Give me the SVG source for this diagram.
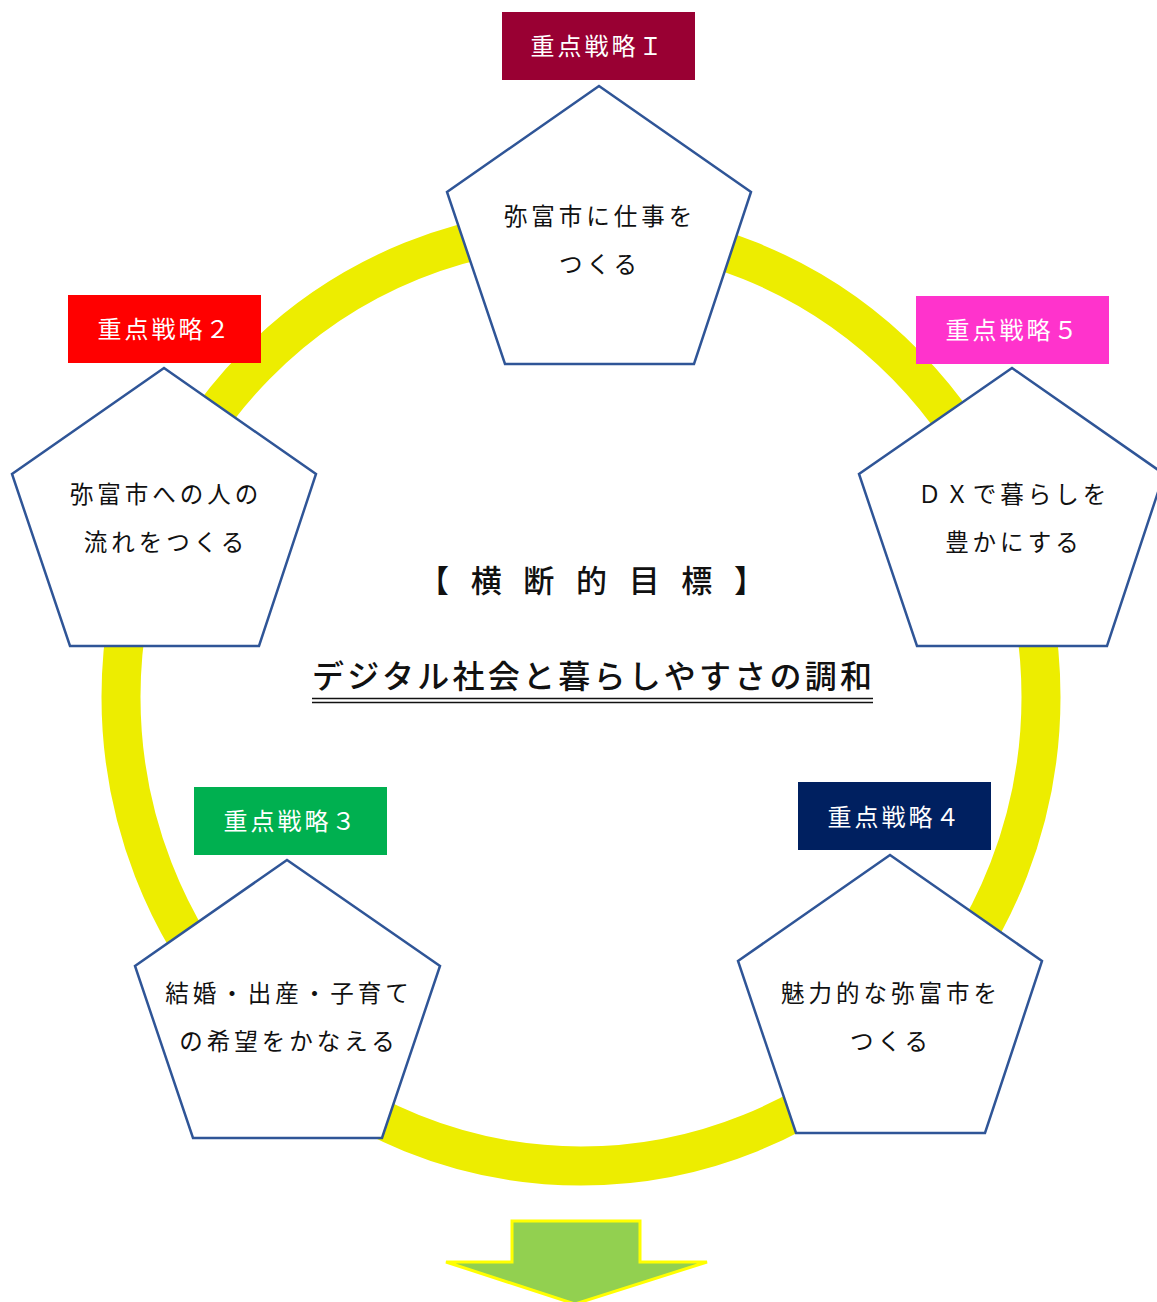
<svg xmlns="http://www.w3.org/2000/svg" width="1157" height="1302" viewBox="0 0 1157 1302">
<style>
.ring{fill:none;stroke:#eded00;stroke-width:39}
.pent{fill:#ffffff;stroke:#2f5597;stroke-width:2.5;stroke-linejoin:miter}
.lbl{font-family:"Noto Sans CJK JP","Noto Sans",sans-serif;font-size:24px;fill:#ffffff;text-anchor:middle;letter-spacing:3px}
.pt{font-family:"Noto Sans CJK JP","Noto Sans",sans-serif;font-size:23.5px;fill:#111111;text-anchor:middle;letter-spacing:4px}
.title{font-family:"Noto Sans CJK JP","Noto Sans",sans-serif;fill:#111111;font-weight:500}
</style>
<rect x="0" y="0" width="1157" height="1302" fill="#ffffff"/>
<g id="ring"><ellipse class="ring" cx="581" cy="697" rx="460" ry="469"/></g>
<g id="connectors"></g>
<g id="node1">
<polygon class="pent" points="599,86 751,192 694,364 505,364 447,192"/>
<text class="pt" x="600" y="225">弥富市に仕事を</text>
<text class="pt" x="600" y="273">つくる</text>
<rect x="502" y="12" width="193" height="68" fill="#990033"/>
<text class="lbl" x="598" y="55">重点戦略Ｉ</text>
</g>
<g id="node2">
<polygon class="pent" points="164,368 316,474 259,646 70,646 12,474"/>
<text class="pt" x="166" y="503">弥富市への人の</text>
<text class="pt" x="166" y="551">流れをつくる</text>
<rect x="68" y="295" width="193" height="68" fill="#ff0000"/>
<text class="lbl" x="165" y="338">重点戦略２</text>
</g>
<g id="node5">
<polygon class="pent" points="1012,368 1164,474 1107,646 917,646 859,474"/>
<text class="pt" x="1014" y="503">ＤＸで暮らしを</text>
<text class="pt" x="1014" y="551">豊かにする</text>
<rect x="916" y="296" width="193" height="68" fill="#ff33cc"/>
<text class="lbl" x="1013" y="339">重点戦略５</text>
</g>
<g id="node3">
<polygon class="pent" points="287,860 440,966 382,1138 193,1138 135,966"/>
<text class="pt" x="289" y="1002">結婚・出産・子育て</text>
<text class="pt" x="289" y="1050">の希望をかなえる</text>
<rect x="194" y="787" width="193" height="68" fill="#00b050"/>
<text class="lbl" x="291" y="830">重点戦略３</text>
</g>
<g id="node4">
<polygon class="pent" points="890,855 1042,961 985,1133 796,1133 738,961"/>
<text class="pt" x="891" y="1002">魅力的な弥富市を</text>
<text class="pt" x="891" y="1050">つくる</text>
<rect x="798" y="782" width="193" height="68" fill="#002060"/>
<text class="lbl" x="895" y="826">重点戦略４</text>
</g>
<g id="center">
<text class="title" x="418" y="592" font-size="31" textLength="347" lengthAdjust="spacing">【 横 断 的 目 標 】</text>
<text class="title" x="312" y="688" font-size="32" textLength="560" lengthAdjust="spacing">デジタル社会と暮らしやすさの調和</text>
<line x1="312" y1="698.5" x2="873" y2="698.5" stroke="#111111" stroke-width="1.6"/>
<line x1="312" y1="702.5" x2="873" y2="702.5" stroke="#111111" stroke-width="1.6"/>
</g>
<g id="arrow">
<polygon points="512,1221 640,1221 640,1262 707,1262 575,1304 446,1262 512,1262" fill="#92d050" stroke="#ffff00" stroke-width="3"/>
</g>
</svg>
